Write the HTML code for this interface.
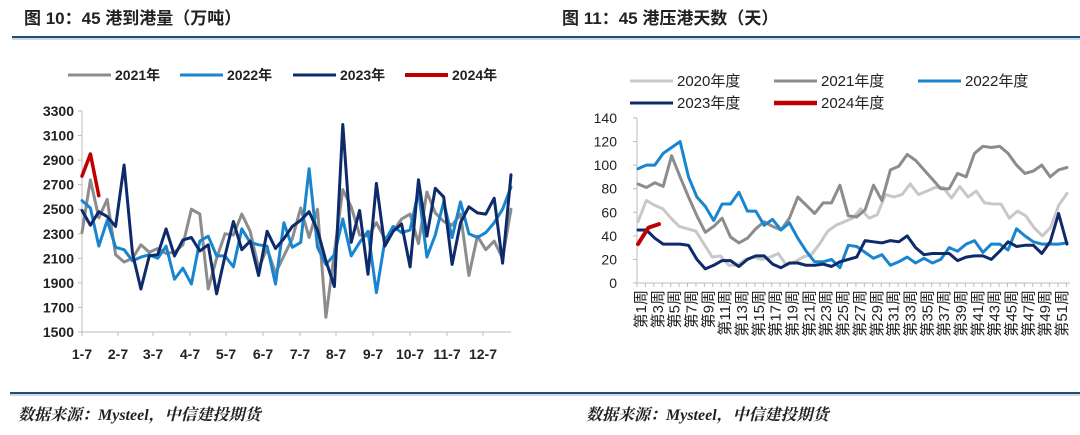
<!DOCTYPE html>
<html><head><meta charset="utf-8">
<style>
body{margin:0;background:#fff;}
svg{display:block;font-family:"Liberation Sans","Noto Sans CJK SC",sans-serif;}
</style></head>
<body>
<svg id="s" width="1080" height="435" viewBox="0 0 1080 435" xmlns="http://www.w3.org/2000/svg">
<rect width="1080" height="435" fill="#fff"/>
<text x="24" y="24" font-size="17" font-weight="bold" fill="#222">图 10：45 港到港量（万吨）</text>
<text x="562" y="24" font-size="17" font-weight="bold" fill="#222">图 11：45 港压港天数（天）</text>
<line x1="12" y1="37" x2="1080" y2="37" stroke="#1f4e79" stroke-width="2"/>
<line x1="12" y1="39" x2="1080" y2="39" stroke="#9db3cc" stroke-width="1"/>
<line x1="10" y1="393" x2="1080" y2="393" stroke="#1f4e79" stroke-width="2"/>
<line x1="10" y1="395" x2="1080" y2="395" stroke="#9db3cc" stroke-width="1"/>
<text x="18" y="420" font-size="16" font-weight="bold" font-style="italic" fill="#222" font-family="Liberation Serif,Noto Serif CJK SC,serif">数据来源：Mysteel，中信建投期货</text>
<text x="586" y="420" font-size="16" font-weight="bold" font-style="italic" fill="#222" font-family="Liberation Serif,Noto Serif CJK SC,serif">数据来源：Mysteel，中信建投期货</text>
<g id="g"></g>
</svg>
<script>
var g=document.getElementById('g'),h='';
function line(x1,y1,x2,y2,c,w){h+='<line x1="'+x1+'" y1="'+y1+'" x2="'+x2+'" y2="'+y2+'" stroke="'+c+'" stroke-width="'+w+'"/>';}
function txt(x,y,t,s,a,extra){h+='<text x="'+x+'" y="'+y+'" font-size="'+s+'" text-anchor="'+(a||'start')+'" fill="#222" '+(extra||'')+'>'+t+'</text>';}
function poly(arr,x0,dx,fy,c,w){var p=arr.map(function(v,i){return (x0+i*dx).toFixed(1)+','+fy(v).toFixed(1)}).join(' ');h+='<polyline points="'+p+'" fill="none" stroke="'+c+'" stroke-width="'+w+'" stroke-linejoin="round" stroke-linecap="round"/>';}
var C1='#8c8c8c',C2='#1a85cf',C3='#0d2a6b',C4='#c00000',C0='#c8c8c8';
// LEFT
var L0=82,L1=511,fyL=function(v){return 332-(v-1500)*221/1800;};
for(var v=1500;v<=3300;v+=200){var y=fyL(v);line(78,y,82,y,'#bbb',1);txt(74,y+5,v,14,'end','font-weight="bold"');}
line(82,111,82,332,'#bbb',1);line(82,332,511,332,'#bbb',1);
var lab=['1-7','2-7','3-7','4-7','5-7','6-7','7-7','8-7','9-7','10-7','11-7','12-7'];
var lx=[82,118,153,190,226,263,300,336,373,410,447,483];
lab.forEach(function(t,i){line(lx[i],332,lx[i],336,'#bbb',1);txt(lx[i],359,t,14,'middle','font-weight="bold"');});
var dxL=(L1-L0)/51;
var a21=[2310,2740,2430,2580,2130,2070,2100,2210,2150,2180,2140,2150,2210,2500,2460,1850,2100,2300,2290,2460,2320,2020,2180,1980,2120,2260,2510,2270,2500,1620,2150,2660,2520,2290,2280,2390,2260,2320,2420,2460,2220,2640,2470,2400,2370,2460,1960,2280,2170,2240,2100,2500];
var a22=[2570,2510,2200,2410,2190,2170,2080,2110,2130,2100,2200,1930,2020,1890,2240,2280,2120,2120,2030,2340,2230,2210,2200,1890,2390,2190,2230,2830,2190,2050,2130,2420,2120,2230,2320,1820,2240,2360,2310,2330,2650,2110,2290,2560,2270,2560,2300,2270,2310,2390,2500,2680];
var a23=[2490,2370,2480,2440,2360,2860,2140,1850,2120,2130,2340,2120,2250,2270,2160,2210,1810,2120,2400,2170,2240,1960,2320,2180,2260,2360,2410,2480,2330,2080,1870,3190,2230,2490,1970,2710,2200,2320,2380,2030,2740,2280,2670,2600,2050,2390,2520,2470,2460,2590,2060,2780];
poly(a21,L0,dxL,fyL,C1,3);poly(a22,L0,dxL,fyL,C2,3);poly(a23,L0,dxL,fyL,C3,3);poly([2770,2950,2610],L0,dxL,fyL,C4,3.5);
[[68,C1,'2021年'],[180,C2,'2022年'],[293,C3,'2023年'],[405,C4,'2024年']].forEach(function(l){line(l[0],75,l[0]+43,75,l[1],l[1]==C4?4:3);txt(l[0]+47,80,l[2],14,'start','font-weight="bold"');});
// RIGHT
var fyR=function(v){return 283-v*165/140;};
for(var v=0;v<=140;v+=20){var y=fyR(v);line(633,y,637,y,'#bbb',1);txt(617,y+5,v,14,'end');}
line(637,118,637,283,'#bbb',1);line(637,283,1070,283,'#bbb',1);
var R0=641,dxR=8.42;
for(var i=0;i<52;i++){line(637+i*8.42,283,637+i*8.42,287,'#bbb',1);}
for(var k=1;k<=51;k+=2){var x=R0+(k-1)*dxR+5;h+='<text transform="translate('+x+',290) rotate(-90)" font-size="15" text-anchor="end" fill="#222">第'+k+'周</text>';}
var b20=[52,70,66,63,55,48,46,44,33,22,23,15,15,20,22,20,22,25,15,18,22,24,33,44,49,52,55,63,55,58,75,73,75,84,75,78,81,81,72,82,73,78,68,67,67,55,61,57,47,40,47,66,76];
var b21=[84,81,85,82,108,90,73,57,43,48,55,39,34,38,46,52,48,45,55,73,66,59,68,68,83,57,56,62,83,70,96,99,109,104,96,88,80,80,93,90,110,116,115,116,110,100,93,95,100,90,96,98];
var b22=[97,100,100,110,115,120,90,73,65,53,67,67,77,61,61,49,54,45,51,38,27,18,18,20,13,32,31,26,21,24,15,18,22,17,21,17,20,30,27,33,36,26,33,33,28,46,40,35,33,33,33,34];
var b23=[45,45,38,33,33,33,32,20,12,15,19,19,14,20,23,23,16,13,17,17,15,15,16,14,18,20,22,36,35,34,36,35,40,30,24,25,25,25,19,22,23,23,20,27,35,31,32,32,25,35,59,33];
function spread(a){var n=a.length;return {a:a,dx:(1067-638)/(n-1)};}
[[b20,C0],[b21,C1],[b22,C2],[b23,C3]].forEach(function(s){var o=spread(s[0]);poly(o.a,638,o.dx,fyR,s[1],3);});
poly([33,47,50],638,10.5,fyR,C4,4);
[[630,81,C0,'2020年度'],[774,81,C1,'2021年度'],[918,81,C2,'2022年度'],[630,103,C3,'2023年度'],[774,103,C4,'2024年度']].forEach(function(l){line(l[0],l[1],l[0]+43,l[1],l[2],l[2]==C4?4.5:3);txt(l[0]+47,l[1]+5,l[3],15);});
g.innerHTML=h;
</script>
</body></html>
